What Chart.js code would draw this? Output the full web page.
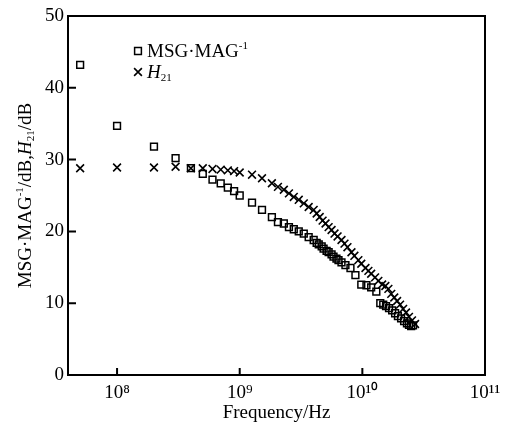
<!DOCTYPE html>
<html>
<head>
<meta charset="utf-8">
<script src="https://cdn.jsdelivr.net/npm/chart.js@4.4.1/dist/chart.umd.min.js"></script>
<style>
  html, body { margin: 0; padding: 0; background: #fff; }
</style>
</head>
<body>
<canvas id="gain" width="516" height="425"></canvas>
<script>
// values
const msgFreq = [5e7, 1e8, 2e8, 3e8, 4e8, 5e8, 6e8, 7e8, 8e8, 9e8, 1e9,
  1.26e9, 1.52e9, 1.83e9, 2.05e9, 2.29e9, 2.52e9, 2.76e9, 3.03e9, 3.33e9, 3.65e9, 4.01e9,
  4.24e9, 4.41e9, 4.66e9, 4.83e9, 5.11e9, 5.31e9, 5.61e9, 5.82e9, 6.15e9, 6.39e9, 6.76e9, 7.28e9,
  8.0e9, 8.78e9, 9.8e9, 1.08e10, 1.18e10, 1.30e10, 1.40e10, 1.48e10, 1.56e10, 1.65e10, 1.75e10,
  1.85e10, 1.95e10, 2.07e10, 2.19e10, 2.31e10, 2.40e10, 2.50e10, 2.59e10];
const msgGain = [43.2, 34.7, 31.8, 30.2, 28.8, 28.0, 27.2, 26.7, 26.1, 25.6, 25.0,
  24.0, 23.0, 22.0, 21.3, 21.1, 20.6, 20.3, 20.0, 19.7, 19.2, 18.8,
  18.4, 18.2, 17.9, 17.6, 17.3, 17.1, 16.8, 16.5, 16.2, 16.0, 15.7, 15.3,
  14.9, 13.9, 12.6, 12.5, 12.2, 11.6, 10.0, 9.8, 9.6, 9.3, 9.0,
  8.6, 8.2, 7.9, 7.5, 7.2, 7.0, 6.8, 6.9];

const h21Freq = [5e7, 1e8, 2e8, 3e8, 4e8, 5e8, 6e8, 7e8, 8e8, 9e8, 1e9,
  1.26e9, 1.52e9, 1.83e9, 2.05e9, 2.29e9, 2.52e9, 2.76e9, 3.03e9, 3.33e9, 3.65e9, 4.01e9, 4.24e9,
  4.49e9, 4.74e9, 5.01e9, 5.31e9, 5.61e9, 5.93e9, 6.28e9, 6.76e9, 7.15e9, 7.56e9, 8.15e9, 8.61e9, 9.28e9, 9.8e9,
  1.06e10, 1.12e10, 1.18e10, 1.27e10, 1.35e10, 1.45e10, 1.54e10, 1.63e10, 1.72e10, 1.82e10,
  1.92e10, 2.03e10, 2.15e10, 2.27e10, 2.40e10, 2.54e10, 2.69e10];
const h21Gain = [28.8, 28.9, 28.9, 29.0, 28.8, 28.8, 28.7, 28.6, 28.5, 28.4, 28.2,
  27.9, 27.4, 26.7, 26.2, 25.8, 25.3, 24.8, 24.4, 23.9, 23.4, 23.0, 22.5,
  22.0, 21.5, 21.1, 20.6, 20.2, 19.7, 19.3, 18.8, 18.3, 17.8, 17.1, 16.6, 16.0, 15.5,
  14.9, 14.5, 14.1, 13.6, 13.1, 12.6, 12.4, 12.0, 11.3, 10.8,
  10.3, 9.8, 9.2, 8.7, 8.1, 7.6, 7.1];

const xTicks = [1e8, 1e9, 1e10, 1e11];
const xTickLabels = ['10⁸', '10⁹', '10¹⁰', '10¹¹'];
const yTicks = [0, 10, 20, 30, 40, 50];

// rich text pieces (sup / sub / italic)
const msgLabel = [{ t: 'MSG·MAG' }, { t: '-1', sup: true }];
const h21Label = [{ t: 'H', it: true }, { t: '21', sub: true }];
const yTitle = [{ t: 'MSG·MAG' }, { t: '-1', sup: true }, { t: '/dB,' }, { t: 'H', it: true }, { t: '21', sub: true }, { t: '/dB' }];

const FONT = '"Liberation Serif", "Times New Roman", serif';
const SIZE = 19;

function richFont(p) {
  const s = (p.sup || p.sub) ? Math.round(SIZE * 0.6) : SIZE;
  return (p.it ? 'italic ' : '') + s + 'px ' + FONT;
}

function drawRich(ctx, parts, x, y, centered) {
  let w = 0;
  parts.forEach(p => { ctx.font = richFont(p); w += ctx.measureText(p.t).width; });
  let cx = centered ? x - w / 2 : x;
  ctx.textAlign = 'left';
  ctx.textBaseline = 'middle';
  parts.forEach(p => {
    ctx.font = richFont(p);
    const dy = p.sup ? -SIZE * 0.3 : (p.sub ? SIZE * 0.28 : 0);
    ctx.fillText(p.t, cx, y + dy);
    cx += ctx.measureText(p.t).width;
  });
}

const framePlugin = {
  id: 'frame',
  afterDatasetsDraw(chart) {
    const { ctx, chartArea: { left, right, top, bottom }, scales: { x, y } } = chart;
    ctx.save();
    ctx.strokeStyle = '#000';
    ctx.lineWidth = 2;
    ctx.strokeRect(left, top, right - left, bottom - top);
    ctx.beginPath();
    xTicks.forEach(v => {
      const px = x.getPixelForValue(v);
      ctx.moveTo(px, bottom);
      ctx.lineTo(px, bottom - 7);
    });
    yTicks.forEach(v => {
      const py = y.getPixelForValue(v);
      ctx.moveTo(left, py);
      ctx.lineTo(left + 8, py);
    });
    ctx.stroke();

    // legend inside the plot
    const ds = chart.data.datasets;
    const rows = [msgLabel, h21Label];
    rows.forEach((parts, i) => {
      const yy = 51 + i * 21;
      ctx.fillStyle = 'rgba(0,0,0,0)';
      ctx.strokeStyle = '#000';
      ctx.lineWidth = ds[i].borderWidth;
      Chart.helpers.drawPoint(ctx, {
        pointStyle: ds[i].pointStyle, radius: ds[i].pointRadius, rotation: 0, borderWidth: ds[i].borderWidth
      }, 138, yy);
      ctx.fillStyle = '#000';
      drawRich(ctx, parts, 147, yy + 1, false);
    });

    // y axis title
    ctx.fillStyle = '#000';
    ctx.translate(26, (top + bottom) / 2);
    ctx.rotate(-Math.PI / 2);
    drawRich(ctx, yTitle, 0, 0, true);
    ctx.restore();
  }
};

new Chart(document.getElementById('gain'), {
  type: 'scatter',
  data: {
    datasets: [
      {
        label: 'MSG·MAG-1',
        data: msgFreq.map((f, i) => ({ x: f, y: msgGain[i] })),
        pointStyle: 'rect',
        pointRadius: 4.8,
        borderWidth: 1.5,
        borderColor: '#000',
        backgroundColor: 'rgba(0,0,0,0)'
      },
      {
        label: 'H21',
        data: h21Freq.map((f, i) => ({ x: f, y: h21Gain[i] })),
        pointStyle: 'crossRot',
        pointRadius: 5.5,
        borderWidth: 1.6,
        borderColor: '#000',
        backgroundColor: 'rgba(0,0,0,0)'
      }
    ]
  },
  options: {
    responsive: false,
    animation: false,
    devicePixelRatio: 1,
    layout: { padding: { top: 16, right: 31, left: 0, bottom: 0 } },
    plugins: {
      legend: { display: false },
      tooltip: { enabled: false }
    },
    scales: {
      x: {
        type: 'logarithmic',
        min: Math.pow(10, 7.6),
        max: 1e11,
        grid: { display: false, drawTicks: false },
        border: { display: false },
        afterBuildTicks: scale => { scale.ticks = xTicks.map(v => ({ value: v })); },
        afterFit: scale => { scale.height = 50; },
        ticks: {
          autoSkip: false,
          maxRotation: 0,
          padding: 7,
          color: '#000',
          font: { family: FONT, size: SIZE },
          callback: value => xTickLabels[xTicks.indexOf(value)]
        },
        title: {
          display: true,
          text: 'Frequency/Hz',
          color: '#000',
          font: { family: FONT, size: SIZE },
          padding: { top: 0, bottom: 1 }
        }
      },
      y: {
        min: 0,
        max: 50,
        grid: { display: false, drawTicks: false },
        border: { display: false },
        afterBuildTicks: scale => { scale.ticks = yTicks.map(v => ({ value: v })); },
        afterFit: scale => { scale.width = 68; },
        ticks: {
          padding: 4,
          color: '#000',
          font: { family: FONT, size: SIZE }
        }
      }
    }
  },
  plugins: [framePlugin]
});
</script>
</body>
</html>
